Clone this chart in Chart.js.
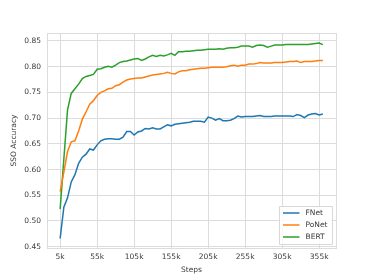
<!DOCTYPE html>
<html>
<head>
<meta charset="utf-8">
<script src="https://cdn.jsdelivr.net/npm/chart.js@4/dist/chart.umd.min.js"></script>
<style>
html,body{margin:0;padding:0;background:#fff;}
#wrap{width:374px;height:280px;position:relative;}
</style>
</head>
<body>
<div id="wrap"><canvas id="c" width="374" height="280"></canvas></div>
<script>
const steps = [5,10,15,20,25,30,35,40,45,50,55,60,65,70,75,80,85,90,95,100,105,110,115,120,125,130,135,140,145,150,155,160,165,170,175,180,185,190,195,200,205,210,215,220,225,230,235,240,245,250,255,260,265,270,275,280,285,290,295,300,305,310,315,320,325,330,335,340,345,350,355,360].map(k => k * 1000);

const fnet = [0.466,0.527,0.545,0.576,0.590,0.612,0.624,0.630,0.640,0.638,0.648,0.656,0.659,0.660,0.660,0.659,0.659,0.663,0.674,0.674,0.667,0.673,0.675,0.680,0.679,0.681,0.679,0.679,0.683,0.687,0.685,0.688,0.689,0.690,0.691,0.692,0.694,0.694,0.694,0.692,0.702,0.700,0.696,0.699,0.695,0.695,0.696,0.699,0.704,0.702,0.703,0.703,0.703,0.704,0.705,0.703,0.703,0.703,0.704,0.704,0.704,0.704,0.704,0.703,0.707,0.705,0.701,0.706,0.708,0.709,0.706,0.708];

const ponet = [0.557,0.595,0.635,0.654,0.656,0.675,0.698,0.712,0.727,0.734,0.744,0.750,0.753,0.757,0.758,0.763,0.765,0.770,0.774,0.776,0.777,0.778,0.778,0.780,0.782,0.784,0.785,0.786,0.787,0.789,0.787,0.786,0.790,0.792,0.792,0.794,0.795,0.796,0.797,0.797,0.798,0.799,0.799,0.799,0.799,0.800,0.802,0.803,0.801,0.803,0.803,0.805,0.805,0.806,0.808,0.807,0.807,0.807,0.808,0.808,0.808,0.809,0.810,0.810,0.811,0.808,0.810,0.810,0.810,0.811,0.812,0.812];

const bert = [0.523,0.620,0.716,0.748,0.757,0.766,0.777,0.781,0.783,0.785,0.795,0.796,0.799,0.801,0.799,0.803,0.808,0.810,0.811,0.813,0.815,0.816,0.812,0.815,0.819,0.822,0.820,0.822,0.821,0.823,0.826,0.822,0.829,0.829,0.830,0.830,0.831,0.832,0.832,0.833,0.834,0.834,0.834,0.835,0.834,0.836,0.837,0.837,0.838,0.840,0.840,0.840,0.838,0.841,0.842,0.841,0.838,0.840,0.842,0.842,0.842,0.843,0.843,0.843,0.843,0.843,0.843,0.843,0.844,0.845,0.846,0.843];

const seriesNames = ['FNet','PoNet','BERT'];
const xTicks = [5,55,105,155,205,255,305,355].map(k => k * 1000);
const yTicks = [0.45,0.50,0.55,0.60,0.65,0.70,0.75,0.80,0.85];

const colors = ['#1f77b4','#ff7f0e','#2ca02c'];
const seriesData = [fnet, ponet, bert];
const gridColor = '#dcdcdc';
const textColor = '#3a3a3a';
const FONT = 'DejaVu Sans';

const datasets = seriesData.map((arr, i) => ({
  label: seriesNames[i],
  data: arr.map((v, j) => ({x: steps[j], y: v})),
  borderColor: colors[i],
  backgroundColor: colors[i],
  borderWidth: 1.5,
  pointRadius: 0,
  tension: 0,
  fill: false
}));

const frame = {
  id: 'frame',
  beforeDatasetsDraw(chart) {
    const a = chart.chartArea, ctx = chart.ctx;
    ctx.save();
    ctx.strokeStyle = gridColor;
    ctx.lineWidth = 1;
    ctx.strokeRect(Math.round(a.left) + 0.5, Math.round(a.top) + 0.5, Math.round(a.right - a.left), Math.round(a.bottom - a.top));
    ctx.restore();
  }
};

const legendBox = {
  id: 'legendBox',
  afterDraw(chart) {
    const a = chart.chartArea, ctx = chart.ctx;
    ctx.save();
    const w = 53, h = 38;
    const x = Math.round(a.right - 4 - w) + 0.5, y = Math.round(a.bottom - 4 - h) + 0.5;
    ctx.fillStyle = 'rgba(255,255,255,0.85)';
    ctx.strokeStyle = '#d8d8d8';
    ctx.lineWidth = 1;
    ctx.beginPath();
    ctx.rect(x, y, w, h);
    ctx.fill();
    ctx.stroke();
    ctx.font = '7.5px "' + FONT + '"';
    ctx.textBaseline = 'middle';
    chart.data.datasets.forEach((ds, i) => {
      const cy = y + 6.5 + i * 12;
      ctx.strokeStyle = ds.borderColor;
      ctx.lineWidth = 1.5;
      ctx.beginPath();
      ctx.moveTo(x + 3.5, cy);
      ctx.lineTo(x + 20, cy);
      ctx.stroke();
      ctx.fillStyle = textColor;
      ctx.fillText(ds.label, x + 26, cy);
    });
    ctx.restore();
  }
};

new Chart(document.getElementById('c'), {
  type: 'line',
  data: {datasets},
  options: {
    responsive: false,
    animation: false,
    devicePixelRatio: 1,
    layout: {padding: {left: 0, right: 38, top: 33, bottom: 0}},
    plugins: {legend: {display: false}, tooltip: {enabled: false}},
    scales: {
      x: {
        type: 'linear',
        min: -12750,
        max: 377750,
        afterBuildTicks(scale) { scale.ticks = xTicks.map(v => ({value: v})); },
        afterFit(scale) { scale.height = 32; },
        grid: {color: gridColor, lineWidth: 1, drawTicks: false},
        border: {color: gridColor},
        ticks: {
          color: textColor,
          font: {family: FONT, size: 7.5},
          padding: 5,
          maxRotation: 0,
          callback: v => (v / 1000) + 'k'
        },
        title: {display: true, text: 'Steps', color: textColor, font: {family: FONT, size: 7.5}, padding: {top: 1, bottom: 5}}
      },
      y: {
        type: 'linear',
        min: 0.4475,
        max: 0.8655,
        afterBuildTicks(scale) { scale.ticks = yTicks.map(v => ({value: v})); },
        afterFit(scale) { scale.width = 47; },
        grid: {color: gridColor, lineWidth: 1, drawTicks: false},
        border: {color: gridColor},
        ticks: {
          color: textColor,
          font: {family: FONT, size: 7.5},
          padding: 6,
          callback: v => v.toFixed(2)
        },
        title: {display: true, text: 'SSO Accuracy', color: textColor, font: {family: FONT, size: 7.5}, padding: {top: 10, bottom: 0}}
      }
    }
  },
  plugins: [frame, legendBox]
});
</script>
</body>
</html>
